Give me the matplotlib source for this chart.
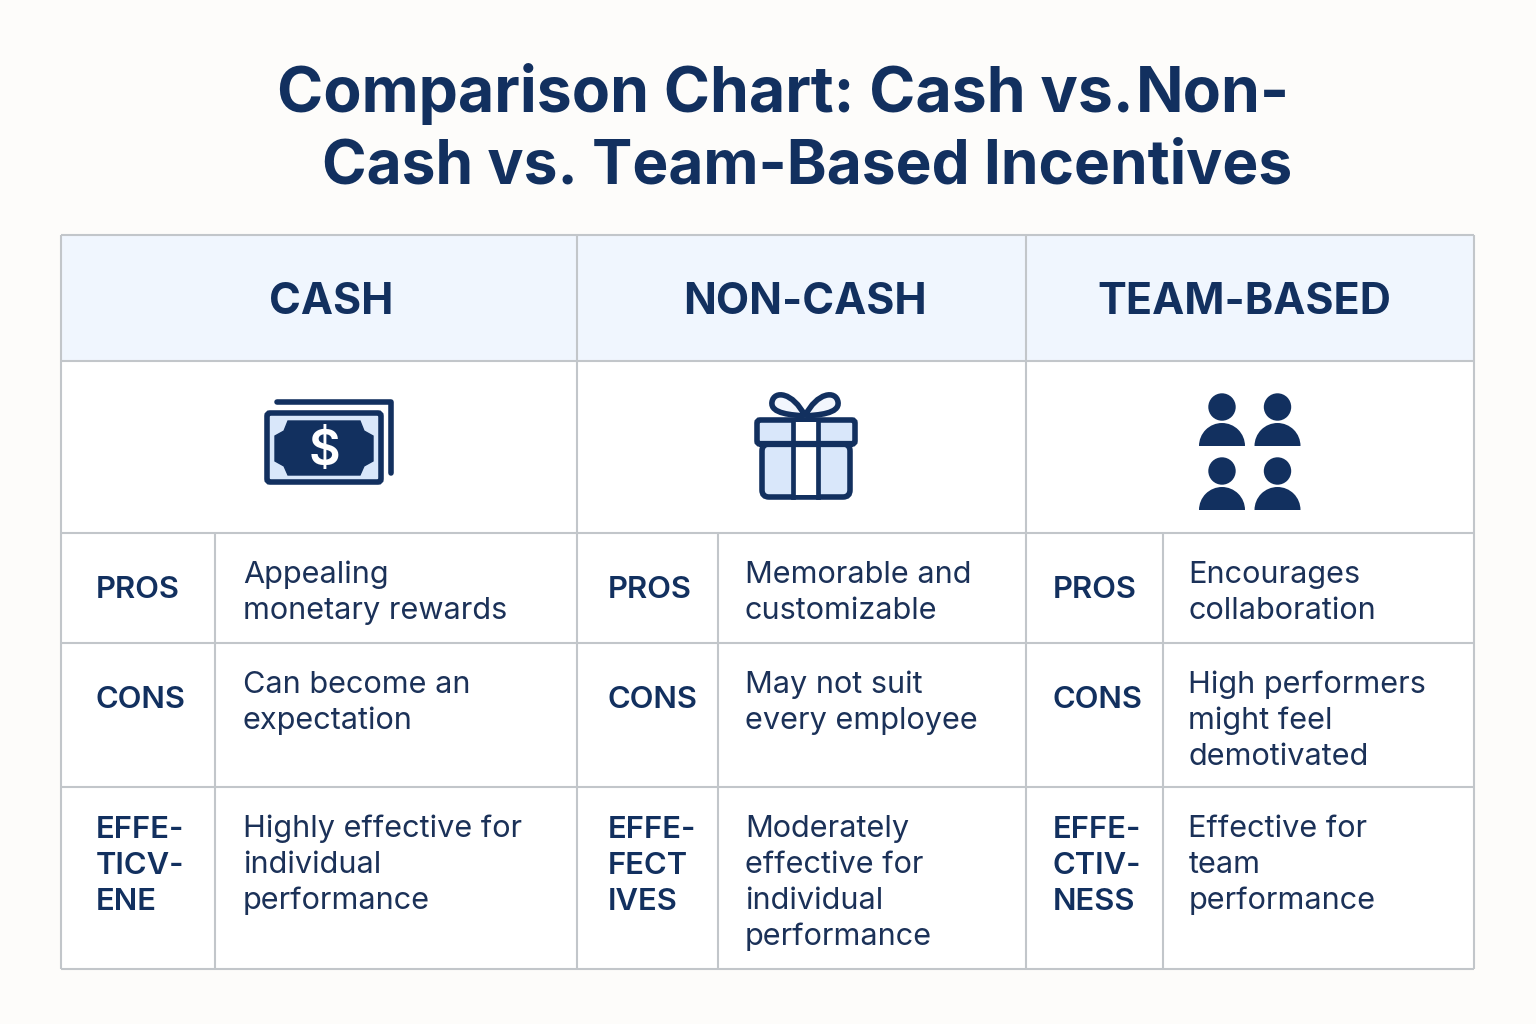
import matplotlib
matplotlib.use("Agg")
import matplotlib.pyplot as plt
from matplotlib.patches import Rectangle, FancyBboxPatch, Polygon, Circle, Wedge, PathPatch
from matplotlib.path import Path

plt.rcParams['font.family'] = ['Inter', 'DejaVu Sans']

NAVY = '#12305f'
LIGHT = '#d9e7fa'
GRID = '#c2c6ca'

# Chart text
title_first = ["Comparison Chart: Cash vs.", "Non-"]
title_second = "Cash vs. Team-Based Incentives"
columns = ["CASH", "NON-CASH", "TEAM-BASED"]
row_labels = ["PROS", "CONS"]
eff_labels = [["EFFE-", "TICV-", "ENE"], ["EFFE-", "FECT", "IVES"], ["EFFE-", "CTIV-", "NESS"]]
pros = [["Appealing", "monetary rewards"], ["Memorable and", "customizable"], ["Encourages", "collaboration"]]
cons = [["Can become an", "expectation"], ["May not suit", "every employee"],
        ["High performers", "might feel", "demotivated"]]
effect = [["Highly effective for", "individual", "performance"],
          ["Moderately", "effective for", "individual", "performance"],
          ["Effective for", "team", "performance"]]

# Layout in pixels
col_edges = [61, 577, 1026, 1474]
col_splits = [215, 718, 1163]
row_edges = [235, 361, 533, 643, 787, 969]
label_x = [95.5, 607.5, 1053]
body_x = [243, 745, 1188.5]
header_x = [331, 805, 1244]

fig = plt.figure(figsize=(15.36, 10.24), dpi=100, facecolor='#fdfcfa')
ax = fig.add_axes([0, 0, 1, 1])
ax.set_xlim(0, 1536)
ax.set_ylim(1024, 0)
ax.axis('off')


def line(x0, y0, x1, y1):
    ax.plot([x0, x1], [y0, y1], color=GRID, lw=1.5, solid_capstyle='butt', zorder=3)


def cash_icon():
    ax.plot([277, 391, 391], [402, 402, 473], color=NAVY, lw=4, solid_capstyle='round',
            solid_joinstyle='round', zorder=4)
    ax.add_patch(FancyBboxPatch((267, 413), 114, 69, boxstyle="round,pad=0,rounding_size=3",
                                fc=LIGHT, ec=NAVY, lw=4, zorder=4))
    ax.add_patch(Polygon([(288, 421), (360, 421), (364, 431), (373, 436), (373, 461), (364, 466),
                          (360, 475), (288, 475), (284, 466), (275, 461), (275, 436), (284, 431)],
                         closed=True, fc=NAVY, ec=NAVY, lw=1, zorder=5))
    ax.text(324, 447, "$", color='white', fontsize=35, fontweight='semibold', ha='center',
            va='center_baseline', zorder=6)


def bow_loop(sign):
    # one loop of the ribbon, mirrored around the knot
    cx = 805
    verts = [(cx, 416), (cx - sign * 12, 415), (cx - sign * 35, 414), (cx - sign * 33, 402),
             (cx - sign * 31, 390), (cx - sign * 12, 392), (cx, 416)]
    codes = [Path.MOVETO] + [Path.CURVE4] * 6
    ax.add_patch(PathPatch(Path(verts, codes), fc='#f2f6fd', ec=NAVY, lw=4, zorder=4))


def gift_icon():
    bow_loop(1)
    bow_loop(-1)
    ax.add_patch(FancyBboxPatch((762, 444), 88, 53, boxstyle="round,pad=0,rounding_size=7",
                                fc=LIGHT, ec=NAVY, lw=4, zorder=4))
    ax.add_patch(Rectangle((793, 444), 25, 51, fc='white', ec='none', zorder=5))
    ax.add_patch(FancyBboxPatch((757, 420), 98, 24, boxstyle="round,pad=0,rounding_size=3",
                                fc=LIGHT, ec=NAVY, lw=4, zorder=5))
    ax.add_patch(Rectangle((793, 422), 25, 20, fc='white', ec='none', zorder=6))
    ax.plot([793, 793], [420, 497], color=NAVY, lw=3.4, zorder=7)
    ax.plot([818, 818], [420, 497], color=NAVY, lw=3.4, zorder=7)
    ax.plot([762, 850], [444, 444], color=NAVY, lw=4.5, zorder=7)


def person_icon(cx, top):
    ax.add_patch(Circle((cx, top + 14), 13.7, fc=NAVY, ec='none', zorder=4))
    ax.add_patch(Wedge((cx, top + 53), 23, 180, 360, fc=NAVY, ec='none', zorder=4))


# Table background
ax.add_patch(Rectangle((col_edges[0], row_edges[0]), col_edges[-1] - col_edges[0],
                       row_edges[-1] - row_edges[0], fc='white', ec='none', zorder=1))
ax.add_patch(Rectangle((col_edges[0], row_edges[0]), col_edges[-1] - col_edges[0],
                       row_edges[1] - row_edges[0], fc='#f0f6fe', ec='none', zorder=2))

# Grid
for y in row_edges:
    line(col_edges[0], y, col_edges[-1], y)
for x in col_edges:
    line(x, row_edges[0], x, row_edges[-1])
for x in col_splits:
    line(x, row_edges[2], x, row_edges[-1])

# Title
ax.text(277, 112, title_first[0], color=NAVY, fontsize=45, fontweight='bold', ha='left', va='baseline')
ax.text(1290, 112, title_first[1], color=NAVY, fontsize=45, fontweight='bold', ha='right', va='baseline')
ax.text(807, 184, title_second, color=NAVY, fontsize=43.5, fontweight='bold', ha='center', va='baseline')

# Columns
for i in range(3):
    ax.text(header_x[i], 314, columns[i], color=NAVY, fontsize=31, fontweight='bold',
            ha='center', va='baseline')
    ax.text(label_x[i], 598, row_labels[0], color=NAVY, fontsize=22.3, fontweight='semibold', va='baseline')
    ax.text(label_x[i], 708, row_labels[1], color=NAVY, fontsize=22.3, fontweight='semibold', va='baseline')
    for j, s in enumerate(eff_labels[i]):
        ax.text(label_x[i], 838 + j * 36, s, color=NAVY, fontsize=22.3, fontweight='semibold', va='baseline')
    for y0, lines in [(583, pros[i]), (693, cons[i]), (837, effect[i])]:
        for j, s in enumerate(lines):
            ax.text(body_x[i], y0 + j * 36, s, color='#1b3158', fontsize=22.1, va='baseline')

cash_icon()
gift_icon()
for cx in (1222, 1277.5):
    person_icon(cx, 393)
    person_icon(cx, 457)

fig.savefig("out.png", dpi=100, facecolor=fig.get_facecolor())
